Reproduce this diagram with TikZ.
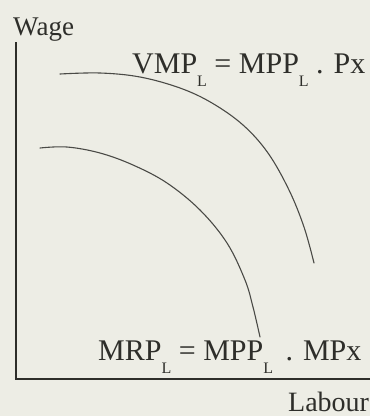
\documentclass[tikz,border=0pt]{standalone}
\usepackage{fontspec}
\setmainfont{Liberation Serif}
\definecolor{paperc}{HTML}{EDEDE5}
\definecolor{inkc}{HTML}{2E2E2A}
\definecolor{curvec}{HTML}{4A4A46}
\newcommand{\lsub}[1]{\raisebox{-13pt}{\fontsize{16}{16}\selectfont #1}}

\begin{document}
\begin{tikzpicture}[
  x=1pt, y=-1pt,
  axis/.style={draw=inkc, line width=2.2pt},
  curve/.style={draw=curvec, line width=1.1pt, line cap=round},
  lbl/.style={text=inkc, inner sep=0pt, anchor=base west,
              font=\fontsize{30}{30}\selectfont},
  axlbl/.style={lbl, font=\fontsize{27}{27}\selectfont},
]
\fill[paperc] (0,0) rectangle (370,416);
\useasboundingbox (0,0) rectangle (370,416);

% ---- axes ----
\coordinate (ytop) at (16,42);
\coordinate (xend) at (370,379);
\draw[axis] (ytop) |- (xend);
\node[axlbl] (wage) at (13,35) {Wage};
\node[axlbl, font=\fontsize{28}{28}\selectfont] (labour) at (288,411) {Labour};

% ---- curves ----
\draw[curve] plot[smooth, tension=0.6] coordinates
  {(60,74) (100,73) (140,77) (180,88) (212,103) (243,125) (268,153)
   (289,190) (304,227) (314,263)};
\draw[curve] plot[smooth, tension=0.6] coordinates
  {(40,148) (67,147) (100,153) (133,165) (167,183) (200,210) (227,243)
   (245,280) (253,307) (260,337)};

% ---- curve labels ----
\node[lbl] (vmp) at (132,73) {VMP\lsub{L} = MPP\lsub{L} . Px};
\node[lbl] (mrp) at (98,360) {MRP\lsub{L} = MPP\lsub{L} \,. MPx};
\end{tikzpicture}
\end{document}
